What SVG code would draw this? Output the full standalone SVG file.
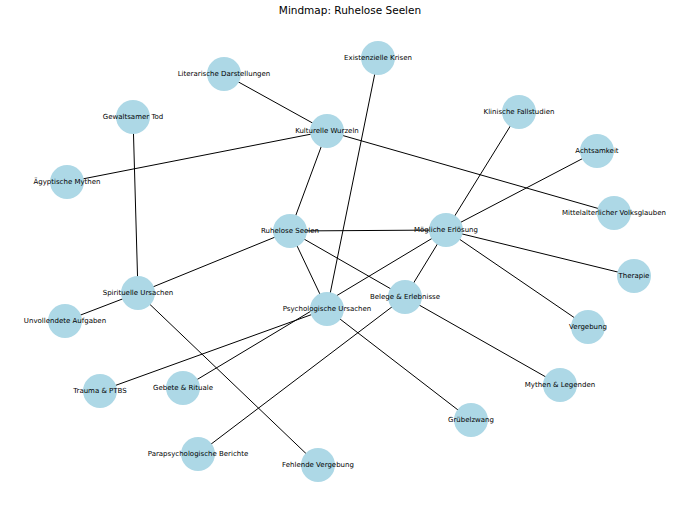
<svg xmlns="http://www.w3.org/2000/svg" width="700" height="514" viewBox="0 0 700 514">
<style>
.n{fill:#add8e6}
.t{font-family:"DejaVu Sans",sans-serif;font-size:7px;fill:#000;text-anchor:middle;dominant-baseline:central}
#edges line{stroke:#000;stroke-width:1}
</style>
<rect width="700" height="514" fill="#fff"/>
<text x="350" y="10" style="font-family:'DejaVu Sans',sans-serif;font-size:10.5px;text-anchor:middle;dominant-baseline:central">Mindmap: Ruhelose Seelen</text>
<g id="edges">
<line x1="224" y1="74" x2="327" y2="131"/>
<line x1="327" y1="131" x2="67" y2="182"/>
<line x1="327" y1="131" x2="614" y2="213"/>
<line x1="327" y1="131" x2="290" y2="231"/>
<line x1="378" y1="58" x2="327" y2="309"/>
<line x1="133" y1="117" x2="138" y2="293"/>
<line x1="290" y1="231" x2="446" y2="230"/>
<line x1="290" y1="231" x2="138" y2="293"/>
<line x1="290" y1="231" x2="327" y2="309"/>
<line x1="290" y1="231" x2="405" y2="297"/>
<line x1="446" y1="230" x2="519" y2="112"/>
<line x1="446" y1="230" x2="597" y2="151"/>
<line x1="446" y1="230" x2="634" y2="276"/>
<line x1="446" y1="230" x2="588" y2="327"/>
<line x1="446" y1="230" x2="405" y2="297"/>
<line x1="446" y1="230" x2="183" y2="388"/>
<line x1="327" y1="309" x2="100" y2="391"/>
<line x1="327" y1="309" x2="471" y2="420"/>
<line x1="138" y1="293" x2="65" y2="321"/>
<line x1="138" y1="293" x2="318" y2="465"/>
<line x1="405" y1="297" x2="560" y2="385"/>
<line x1="405" y1="297" x2="198" y2="454"/>
</g>
<g id="n1"><circle class="n" cx="327" cy="131" r="17"/><text class="t" x="327" y="131">Kulturelle Wurzeln</text></g>
<g id="n2"><circle class="n" cx="224" cy="74" r="17"/><text class="t" x="224" y="74">Literarische Darstellungen</text></g>
<g id="n3"><circle class="n" cx="378" cy="58" r="17"/><text class="t" x="378" y="58">Existenzielle Krisen</text></g>
<g id="n4"><circle class="n" cx="133" cy="117" r="17"/><text class="t" x="133" y="117">Gewaltsamer Tod</text></g>
<g id="n5"><circle class="n" cx="67" cy="182" r="17"/><text class="t" x="67" y="182">Ägyptische Mythen</text></g>
<g id="n6"><circle class="n" cx="519" cy="112" r="17"/><text class="t" x="519" y="112">Klinische Fallstudien</text></g>
<g id="n7"><circle class="n" cx="597" cy="151" r="17"/><text class="t" x="597" y="151">Achtsamkeit</text></g>
<g id="n8"><circle class="n" cx="614" cy="213" r="17"/><text class="t" x="614" y="213">Mittelalterlicher Volksglauben</text></g>
<g id="n9"><circle class="n" cx="446" cy="230" r="17"/><text class="t" x="446" y="230">Mögliche Erlösung</text></g>
<g id="n10"><circle class="n" cx="290" cy="231" r="17"/><text class="t" x="290" y="231">Ruhelose Seelen</text></g>
<g id="n11"><circle class="n" cx="138" cy="293" r="17"/><text class="t" x="138" y="293">Spirituelle Ursachen</text></g>
<g id="n12"><circle class="n" cx="65" cy="321" r="17"/><text class="t" x="65" y="321">Unvollendete Aufgaben</text></g>
<g id="n13"><circle class="n" cx="327" cy="309" r="17"/><text class="t" x="327" y="309">Psychologische Ursachen</text></g>
<g id="n14"><circle class="n" cx="405" cy="297" r="17"/><text class="t" x="405" y="297">Belege &amp; Erlebnisse</text></g>
<g id="n15"><circle class="n" cx="634" cy="276" r="17"/><text class="t" x="634" y="276">Therapie</text></g>
<g id="n16"><circle class="n" cx="588" cy="327" r="17"/><text class="t" x="588" y="327">Vergebung</text></g>
<g id="n17"><circle class="n" cx="560" cy="385" r="17"/><text class="t" x="560" y="385">Mythen &amp; Legenden</text></g>
<g id="n18"><circle class="n" cx="100" cy="391" r="17"/><text class="t" x="100" y="391">Trauma &amp; PTBS</text></g>
<g id="n19"><circle class="n" cx="183" cy="388" r="17"/><text class="t" x="183" y="388">Gebete &amp; Rituale</text></g>
<g id="n20"><circle class="n" cx="471" cy="420" r="17"/><text class="t" x="471" y="420">Grübelzwang</text></g>
<g id="n21"><circle class="n" cx="198" cy="454" r="17"/><text class="t" x="198" y="454">Parapsychologische Berichte</text></g>
<g id="n22"><circle class="n" cx="318" cy="465" r="17"/><text class="t" x="318" y="465">Fehlende Vergebung</text></g>
</svg>
